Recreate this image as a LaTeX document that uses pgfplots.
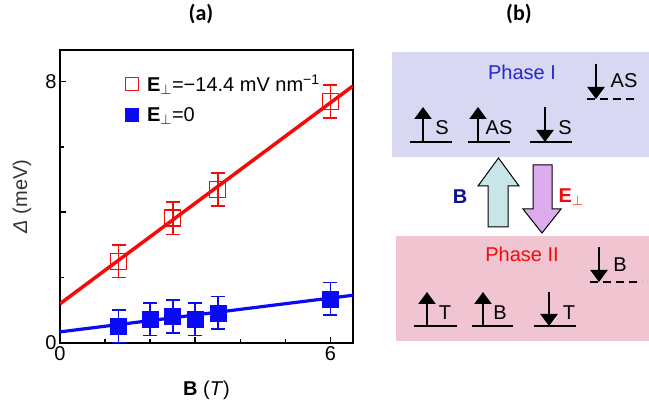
\documentclass[border=0pt]{standalone}
\usepackage{pgfplots}
\pgfplotsset{compat=1.18}
\usepackage{fontspec}
\setmainfont{Liberation Sans}
\newfontfamily\calibri{Carlito}
\usetikzlibrary{arrows.meta}

\definecolor{fitred}{RGB}{245,10,10}
\definecolor{fitblue}{RGB}{10,10,245}
\definecolor{phaseone}{RGB}{216,216,242}
\definecolor{phasetwo}{RGB}{240,197,209}
\definecolor{upfill}{RGB}{200,230,232}
\definecolor{downfill}{RGB}{221,172,236}
\definecolor{textblue}{RGB}{40,40,200}
\definecolor{navy}{RGB}{15,15,140}

\pgfplotsset{smallmark legend/.style={legend image code/.code={%
	\draw[##1, mark size=6.5pt] plot coordinates {(0.3cm,0cm)};
	\path (0.3cm+13pt,0cm);}}}

\begin{document}
\begin{tikzpicture}[x=1pt,y=1pt]
\useasboundingbox (0,0) rectangle (649,407);

\begin{axis}[
	at={(60pt,64pt)}, anchor=south west,
	width=293pt, height=293pt, scale only axis,
	xmin=0, xmax=6.5, ymin=0, ymax=8.96,
	xtick={0,3,6}, xticklabels={0,,6}, minor xtick={1,2,4,5},
	ytick={0,4,8}, yticklabels={0,,8}, minor ytick={2,6},
	xtick pos=bottom, ytick pos=left, tick align=inside,
	major tick length=6pt, minor tick length=4pt,
	every tick/.style={black, line width=1.5pt},
	axis line style={line width=1.6pt},
	tick label style={font=\fontsize{20}{24}\selectfont},
	/pgf/number format/assume math mode=true,
	xlabel={\textbf{B} (\textit{T})},
	ylabel={\textit{Δ} (meV)},
	label style={font=\fontsize{20}{24}\selectfont},
	xlabel style={at={(axis description cs:0.5,-0.16)}, anchor=center},
	ylabel style={at={(axis description cs:-0.13,0.5)}, anchor=center, black!80},
	legend cell align=left,
	legend style={at={(rel axis cs:0.212,0.93)}, anchor=north west, draw=none, fill=none,
		font=\fontsize{20}{24}\selectfont, row sep=10pt},
]
% fit lines
\addplot[fitred, line width=3.5pt, forget plot] coordinates {(0,1.20) (6.5,7.86)};
\addplot[fitblue, line width=3.2pt, forget plot] coordinates {(0,0.34) (6.5,1.46)};

% E = -14.4 mV/nm
\addplot[fitred, only marks, mark=square, mark size=8pt, mark options={line width=1.3pt, fill=none},
	smallmark legend,
	error bars/.cd, y dir=both, y explicit,
	error bar style={line width=1.8pt},
	error mark options={rotate=90, mark size=7pt, line width=1.8pt}]
coordinates {
	(1.3,2.50) +- (0,0.50)
	(2.5,3.82) +- (0,0.50)
	(3.5,4.70) +- (0,0.50)
	(6.0,7.38) +- (0,0.50)
};
\addlegendentry{\textbf{E}$_{\perp}$=−14.4 mV nm\textsuperscript{−1}}

% E = 0
\addplot[fitblue, only marks, mark=square*, mark size=8pt,
	smallmark legend,
	error bars/.cd, y dir=both, y explicit,
	error bar style={line width=1.8pt},
	error mark options={rotate=90, mark size=7pt, line width=1.8pt}]
coordinates {
	(1.3,0.51) +- (0,0.50)
	(2.0,0.73) +- (0,0.50)
	(2.5,0.81) +- (0,0.50)
	(3.0,0.73) +- (0,0.50)
	(3.5,0.92) +- (0,0.50)
	(6.0,1.35) +- (0,0.50)
};
\addlegendentry{\textbf{E}$_{\perp}$=0}
\end{axis}

% panel titles and schematic (y measured downward from the top)
\begin{scope}[shift={(0,407)}, yscale=-1]
\node[font=\calibri\bfseries\fontsize{22}{26}\selectfont] at (201,14) {(a)};
\node[font=\calibri\bfseries\fontsize{22}{26}\selectfont] at (519,14) {(b)};

\fill[phaseone] (392,52) rectangle (649,157);
\fill[phasetwo] (396,236) rectangle (649,341);

\node[textblue, font=\fontsize{20}{24}\selectfont] at (522,72) {Phase I};
\node[fitred, font=\fontsize{20}{24}\selectfont] at (522,254) {Phase II};

% block arrows
\draw[line width=1pt, fill=upfill] (488,227) -- (488,186) -- (478,186) -- (498.5,158)
	-- (519,186) -- (508,186) -- (508,227) -- cycle;
\draw[line width=1pt, fill=downfill] (533,165) -- (552,165) -- (552,209) -- (561,209)
	-- (542,233) -- (523,209) -- (533,209) -- cycle;
\node[navy, font=\bfseries\fontsize{20}{24}\selectfont] at (460,197) {B};
\node[fitred, anchor=west, font=\bfseries\fontsize{20}{24}\selectfont] at (555,197) {E$_{\perp}$};

\tikzset{lvl/.style={line width=2.3pt}, arr/.style={line width=2.3pt, -{Triangle[width=17pt,length=12pt]}},
	lab/.style={font=\fontsize{20}{24}\selectfont}}
% phase I levels
\draw[lvl] (410,142) -- (452,142);
\draw[arr] (423,142) -- (423,107);
\node[lab] at (442,128) {S};
\draw[lvl] (468,142) -- (510,142);
\draw[arr] (478,142) -- (478,107);
\node[lab] at (499,128) {AS};
\draw[lvl] (530,142) -- (572,142);
\draw[arr] (545,107) -- (545,142);
\node[lab] at (565,128) {S};
\draw[lvl, dash pattern=on 8pt off 5pt] (587,99) -- (638,99);
\draw[arr] (596,64) -- (596,99);
\node[lab] at (624,81) {AS};
% phase II levels
\draw[lvl] (414,326) -- (457,326);
\draw[arr] (427,326) -- (427,292);
\node[lab] at (445,313) {T};
\draw[lvl] (472,326) -- (513,326);
\draw[arr] (483,326) -- (483,292);
\node[lab] at (500,313) {B};
\draw[lvl] (534,326) -- (576,326);
\draw[arr] (549,292) -- (549,326);
\node[lab] at (569,313) {T};
\draw[lvl, dash pattern=on 8pt off 5pt] (590,282) -- (642,282);
\draw[arr] (599,247) -- (599,282);
\node[lab] at (620,265) {B};
\end{scope}
\end{tikzpicture}
\end{document}
